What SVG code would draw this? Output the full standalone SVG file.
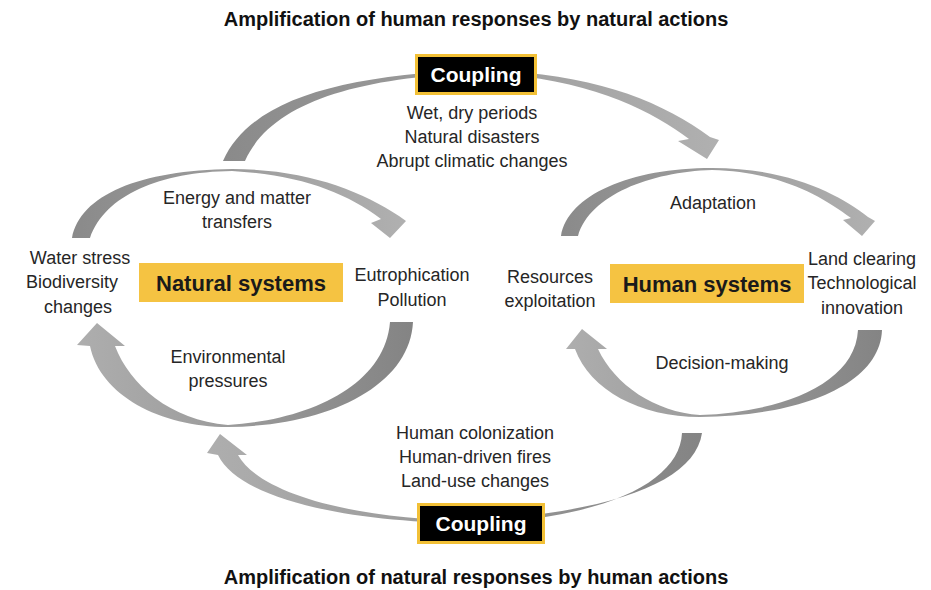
<svg xmlns="http://www.w3.org/2000/svg" width="931" height="590" viewBox="0 0 931 590">
<defs>
<linearGradient id="gL" x1="0" y1="0" x2="1" y2="0">
<stop offset="0" stop-color="#8a8a8a"/><stop offset="1" stop-color="#b0b0b0"/>
</linearGradient>
<linearGradient id="gR" x1="1" y1="0" x2="0" y2="0">
<stop offset="0" stop-color="#848484"/><stop offset="1" stop-color="#aeaeae"/>
</linearGradient>
</defs>
<style>
text{font-family:"Liberation Sans",Arial,sans-serif;text-anchor:middle;fill:#262626}
.t{font-size:18px}
.title{font-size:20px;font-weight:bold;fill:#111}
.sys{font-size:22px;font-weight:bold;fill:#1a1a1a}
.cp{font-size:21px;font-weight:bold;fill:#fff}
.sysbox{fill:#F5C342}
.cpbox{fill:#000;stroke:#F2C036;stroke-width:3}
</style>
<rect width="931" height="590" fill="#fff"/>
<g id="connectors">
<path fill="url(#gL)" d="M223,161 C250,100 340,75 477,70 C590,72 660,100 710,137 L719,140 L707,159 L678,141 L689,139 C650,110 585,76 477,73 C350,78 270,105 245,161 Z"/>
<path fill="url(#gR)" d="M702,433 C695,480 620,510 480,520.5 C360,521 260,495 238,455 L247,455 L220,434 L207,453 L218,455 C240,500 350,523 480,523.5 C610,517 680,480 682,433 Z"/>
<path fill="url(#gL)" d="M72,238 C80,195 140,170 232,169 C305,169 360,190 399,216 L406,221 L390,238 L371,223 L381,219 C345,192 300,175 232,171 C160,172 105,195 90,238 Z"/>
<path fill="url(#gR)" d="M413,322 C410,385 330,426 228,427 C160,427 100,395 90,346 L77,345 L97,323 L125,346 L115,346 C130,385 170,420 228,425 C310,420 385,385 390,322 Z"/>
<path fill="url(#gL)" d="M561,236 C568,195 630,168 712,168 C790,168 840,195 868,217 L875,221 L862,236 L843,220 L851,218 C820,195 780,172 712,170 C650,172 590,195 578,236 Z"/>
<path fill="url(#gR)" d="M882,330 C880,385 800,416 700,417 C640,417 590,390 575,349 L566,349 L582,329 L607,349 L598,349 C615,385 655,412 700,415 C780,412 855,385 858,330 Z"/>
</g>
<g id="title-top"><text class="title" x="476" y="26">Amplification of human responses by natural actions</text></g>
<g id="title-bottom"><text class="title" x="476" y="584">Amplification of natural responses by human actions</text></g>
<g id="coupling-top">
<rect class="cpbox" x="416.5" y="55.5" width="119" height="38"/>
<text class="cp" x="476" y="82">Coupling</text>
</g>
<g id="coupling-top-labels">
<text class="t" x="472" y="119">Wet, dry periods</text>
<text class="t" x="472" y="143">Natural disasters</text>
<text class="t" x="472" y="167">Abrupt climatic changes</text>
</g>
<g id="natural-systems">
<rect class="sysbox" x="139" y="263" width="204" height="39"/>
<text class="sys" x="241" y="291">Natural systems</text>
</g>
<g id="natural-labels">
<text class="t" x="237" y="204">Energy and matter</text>
<text class="t" x="237" y="228">transfers</text>
<text class="t" x="80" y="264">Water stress</text>
<text class="t" x="72" y="288">Biodiversity</text>
<text class="t" x="78" y="313">changes</text>
<text class="t" x="412" y="281">Eutrophication</text>
<text class="t" x="412" y="306">Pollution</text>
<text class="t" x="228" y="363">Environmental</text>
<text class="t" x="228" y="387">pressures</text>
</g>
<g id="human-systems">
<rect class="sysbox" x="610" y="264" width="194" height="39"/>
<text class="sys" x="707" y="292">Human systems</text>
</g>
<g id="human-labels">
<text class="t" x="713" y="209">Adaptation</text>
<text class="t" x="550" y="283">Resources</text>
<text class="t" x="550" y="307">exploitation</text>
<text class="t" x="862" y="265">Land clearing</text>
<text class="t" x="862" y="289">Technological</text>
<text class="t" x="862" y="314">innovation</text>
<text class="t" x="722" y="369">Decision-making</text>
</g>
<g id="coupling-bottom-labels">
<text class="t" x="475" y="439">Human colonization</text>
<text class="t" x="475" y="463">Human-driven fires</text>
<text class="t" x="475" y="487">Land-use changes</text>
</g>
<g id="coupling-bottom">
<rect class="cpbox" x="418.5" y="504.5" width="125" height="38"/>
<text class="cp" x="481" y="531">Coupling</text>
</g>
</svg>
